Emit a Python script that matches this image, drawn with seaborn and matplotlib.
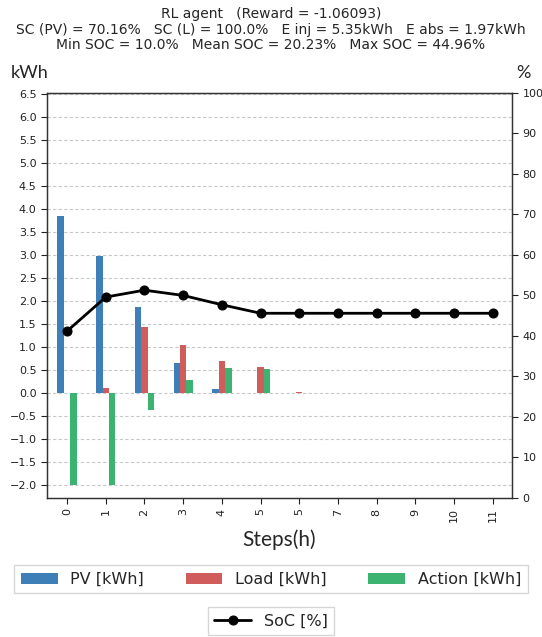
import matplotlib
matplotlib.use("Agg")
import matplotlib.pyplot as plt
import seaborn as sns
import pandas as pd
import numpy as np

steps = list(range(12))
tick_labels = ['0', '1', '2', '3', '4', '5', '5', '7', '8', '9', '10', '11']
pv = [3.84, 2.98, 1.86, 0.65, 0.09, 0.0, 0.0, 0.0, 0.0, 0.0, 0.0, 0.0]
load = [0.0, 0.12, 1.43, 1.04, 0.69, 0.56, 0.03, 0.0, 0.0, 0.0, 0.0, 0.0]
action = [-2.0, -2.0, -0.37, 0.28, 0.54, 0.52, 0.0, 0.01, 0.01, 0.01, 0.01, 0.01]
soc = [41.2, 49.6, 51.3, 50.0, 47.7, 45.6, 45.6, 45.6, 45.6, 45.6, 45.6, 45.6]
series_names = ['PV [kWh]', 'Load [kWh]', 'Action [kWh]']
series_colors = ['#3f7fb8', '#d05c5c', '#3cb371']

title = ("RL agent   (Reward = -1.06093)\n"
         "SC (PV) = 70.16%   SC (L) = 100.0%   E inj = 5.35kWh   E abs = 1.97kWh\n"
         "Min SOC = 10.0%   Mean SOC = 20.23%   Max SOC = 44.96%")

df = pd.DataFrame({
    'step': steps * 3,
    'series': sum([[n] * 12 for n in series_names], []),
    'value': pv + load + action,
})

sns.set_style("white")
plt.rcParams['font.family'] = ['DejaVu Sans']

fig = plt.figure(figsize=(5.42, 6.37), dpi=100)
ax = fig.add_axes([0.0867, 0.2182, 0.858, 0.636])

sns.barplot(data=df, x='step', y='value', hue='series', hue_order=series_names,
            palette=series_colors, width=0.5, gap=0, saturation=1, ax=ax,
            linewidth=0, errorbar=None, order=steps)
ax.set_xlim(-0.52, 11.5)
ax.set_ylim(-2.28, 6.52)
ax.set_yticks(np.arange(-2.0, 6.51, 0.5))
ax.set_yticklabels([f"{v:.1f}".replace('-', '\u2212') for v in np.arange(-2.0, 6.51, 0.5)])
ax.set_xticks(steps)
ax.set_xticklabels(tick_labels, rotation=90)
ax.yaxis.grid(True, linestyle=(0, (3, 2)), color='#c8c8c8', linewidth=0.8)
ax.set_axisbelow(True)
ax.tick_params(axis='both', labelsize=8, colors='#222222', length=4, direction='out',
               left=True, bottom=True)
for s in ax.spines.values():
    s.set_color('#333333')
    s.set_linewidth(1.0)
ax.set_ylabel('')
ax.set_xlabel('Steps(h)', family=['Lato', 'DejaVu Sans'], fontsize=15, labelpad=5)
bar_handles, bar_labels = ax.get_legend_handles_labels()
ax.get_legend().remove()

ax2 = ax.twinx()
sns.lineplot(x=steps, y=soc, ax=ax2, color='black', marker='o', markersize=6.5,
             linewidth=2, label='SoC [%]', markeredgecolor='black')
ax2.set_ylim(0, 100)
ax2.set_yticks(range(0, 101, 10))
ax2.tick_params(axis='y', labelsize=8, colors='#222222', length=4, direction='out', right=True)
ax2.set_ylabel('')
for s in ax2.spines.values():
    s.set_color('#333333')
line_handles, line_labels = ax2.get_legend_handles_labels()
ax2.get_legend().remove()

fig.text(0.5, 0.989, title, ha='center', va='top', fontsize=10, linespacing=1.15)
fig.text(0.02, 0.873, 'kWh', ha='left', va='bottom', fontsize=13,
         family=['Lato', 'DejaVu Sans'])
fig.text(0.953, 0.873, '%', ha='left', va='bottom', fontsize=13,
         family=['Lato', 'DejaVu Sans'])

fig.legend(bar_handles, bar_labels, ncol=3, loc='center', bbox_to_anchor=(0.5, 0.0905),
           fontsize=11.5, frameon=True, handlelength=2.3, handletextpad=0.8,
           columnspacing=2.6, fancybox=False, edgecolor='#cccccc')
fig.legend(line_handles, line_labels, loc='center', bbox_to_anchor=(0.5, 0.025),
           fontsize=11.5, frameon=True, handlelength=2.3, fancybox=False,
           edgecolor='#cccccc')

fig.savefig('out.png', dpi=100)
